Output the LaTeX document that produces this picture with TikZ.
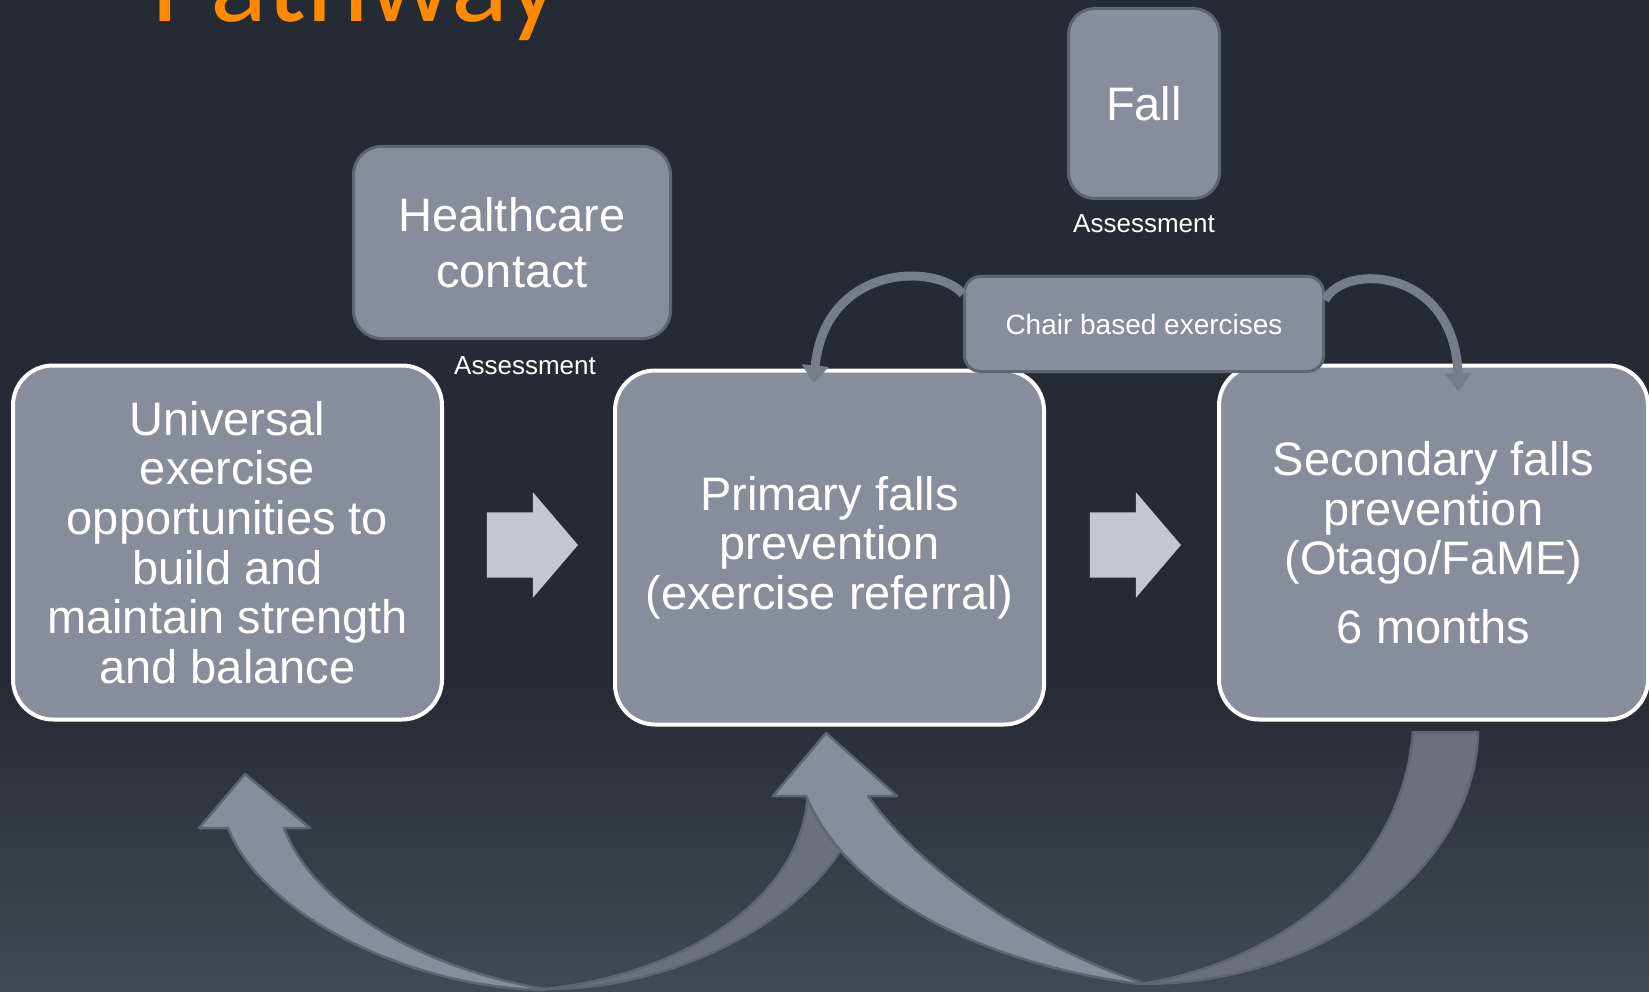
\documentclass[tikz,border=0pt]{standalone}
\usepackage{fontspec}
\setmainfont{Liberation Sans}
\newfontfamily\headfont{Carlito}
\usetikzlibrary{arrows.meta, positioning, shapes.arrows, calc}

\definecolor{SlideTop}{RGB}{37,43,52}
\definecolor{SlideBottom}{RGB}{65,74,84}
\definecolor{BoxGray}{RGB}{134,142,156}
\definecolor{EdgeGray}{RGB}{94,101,114}
\definecolor{BackGray}{RGB}{106,112,124}
\definecolor{BendGray}{RGB}{118,125,138}
\definecolor{ArrowLight}{RGB}{196,199,207}
\definecolor{TitleOrange}{RGB}{255,138,0}

\tikzset{
  stage/.style={rectangle, rounded corners=40pt, draw=white, fill=BoxGray,
    line width=4pt, text=white, align=center, inner sep=0pt,
    minimum width=429pt, minimum height=354pt,
    font=\fontsize{47}{49.6}\selectfont},
  event/.style={rectangle, rounded corners=28pt, draw=EdgeGray, fill=BoxGray,
    line width=3pt, text=white, align=center, inner sep=0pt,
    font=\fontsize{47}{56}\selectfont},
  note/.style={text=white, inner sep=0pt, font=\fontsize{26}{30}\selectfont},
  push/.style={single arrow, fill=ArrowLight, inner xsep=0pt, inner ysep=32.5pt,
    minimum height=91pt, single arrow head extend=20pt, single arrow tip angle=99,
    xshift=-10pt},
  hook/.style={line width=9pt, draw=BendGray,
    -{Triangle[width=26pt, length=18pt]}},
  ribbon/.style={fill=BoxGray, draw=EdgeGray, line width=2.5pt, line join=round},
  ribbonback/.style={fill=BackGray, draw=EdgeGray, line width=2.5pt, line join=round}
}

\begin{document}
\begin{tikzpicture}[x=1pt, y=-1pt]
  \useasboundingbox (0,0) rectangle (1649,992);
  \fill[SlideTop] (0,0) rectangle (1649,992);
  \shade[top color=SlideTop, bottom color=SlideBottom] (0,680) rectangle (1649,992);

  \node[anchor=base west, inner sep=0pt, text=TitleOrange,
    font=\headfont\fontsize{119}{125}\selectfont] (title) at (151,22) {Pathway};

  % the three stages
  \node[stage] (universal) at (227.5,542.5)
    {Universal\\exercise\\opportunities to\\build and\\maintain strength\\and balance};
  \node[stage, right=169pt of universal, yshift=-5pt] (primary)
    {Primary falls\\prevention\\(exercise referral)};
  \node[stage, right=171pt of primary, yshift=5pt] (secondary)
    {Secondary falls\\prevention\\(Otago/FaME)\\[19pt]6 months};

  % triggers above the stages
  \node[event, minimum width=317pt, minimum height=192pt] (healthcare) at (512,242.5)
    {Healthcare\\contact};
  \node[note, below=16pt of healthcare, xshift=13pt] (gpcheck) {Assessment};
  \node[event, rounded corners=26pt, minimum width=151pt, minimum height=190pt]
    (fall) at (1144,103.5) {Fall};
  \node[note, below=14pt of fall] (fallcheck) {Assessment};

  \node[push] (pushA) at ($(universal.east)!0.5!(primary.west)$) {};
  \node[push] (pushB) at ($(primary.east)!0.5!(secondary.west)$) {};

  % chair based exercises feeding both stages
  \node[event, rounded corners=16pt, minimum width=359pt, minimum height=95pt,
    font=\fontsize{28}{34}\selectfont, below=75pt of fall] (chair)
    {Chair based exercises};
  \draw[hook] ([yshift=30pt]chair.west) .. controls (935,262) and (825,265)
    .. ([xshift=-16pt, yshift=-15pt]primary.north);
  \draw[hook] ([yshift=24pt]chair.east) .. controls (1345,262) and (1455,268)
    .. ([xshift=25pt, yshift=-28pt]secondary.north);

  % loop back: primary -> universal
  \filldraw[ribbonback] (808,790) .. controls (805,900) and (680,975) .. (545,989)
    .. controls (700,990) and (855,890) .. (862,790) -- cycle;
  \filldraw[ribbon] (545,990) .. controls (410,988) and (262,915) .. (228,828)
    -- (199,828) -- (245,774) -- (310,828) -- (284,828)
    .. controls (315,910) and (430,970) .. (545,989) -- cycle;

  % loop back: secondary -> primary
  \filldraw[ribbonback] (1413,732) -- (1478,732)
    .. controls (1475,870) and (1320,985) .. (1140,984)
    .. controls (1250,968) and (1400,890) .. (1413,732) -- cycle;
  \filldraw[ribbon] (1140,984) .. controls (990,965) and (850,900) .. (806,796)
    -- (773,796) -- (826,733) -- (897,796) -- (868,796)
    .. controls (920,870) and (1030,945) .. (1140,982) -- cycle;
\end{tikzpicture}
\end{document}
